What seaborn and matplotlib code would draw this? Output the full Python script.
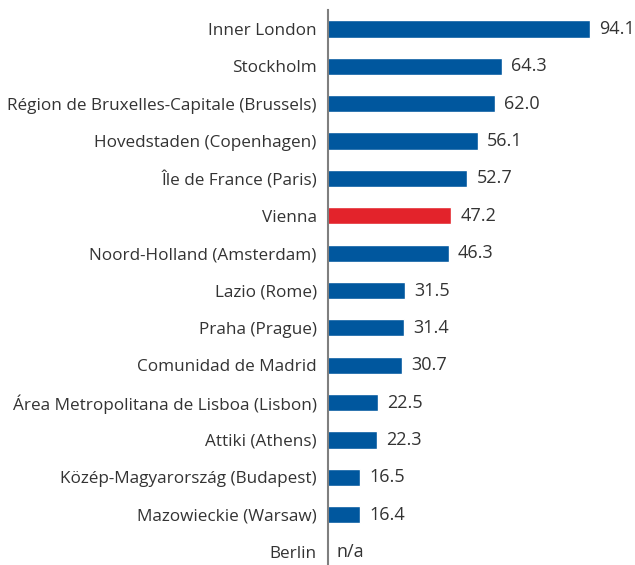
import numpy as np
import pandas as pd
import matplotlib
matplotlib.use("Agg")
import matplotlib.pyplot as plt
import seaborn as sns

regions = [
    "Inner London",
    "Stockholm",
    "Région de Bruxelles-Capitale (Brussels)",
    "Hovedstaden (Copenhagen)",
    "Île de France (Paris)",
    "Vienna",
    "Noord-Holland (Amsterdam)",
    "Lazio (Rome)",
    "Praha (Prague)",
    "Comunidad de Madrid",
    "Área Metropolitana de Lisboa (Lisbon)",
    "Attiki (Athens)",
    "Közép-Magyarország (Budapest)",
    "Mazowieckie (Warsaw)",
    "Berlin",
]
values = [94.1, 64.3, 62.0, 56.1, 52.7, 47.2, 46.3, 31.5, 31.4, 30.7, 22.5, 22.3, 16.5, 16.4, np.nan]
highlight = "Vienna"

blue = "#00579e"
red = "#e3232b"
text_col = "#333333"

sns.set_style("white")
plt.rcParams["font.family"] = ["Open Sans", "DejaVu Sans"]

df = pd.DataFrame({"region": regions, "value": values})
colors = {r: (red if r == highlight else blue) for r in regions}

fig = plt.figure(figsize=(6.35, 5.65), dpi=100)
ax = fig.add_axes([0.5165, 0.0, 0.4835, 0.9823])

sns.barplot(data=df.dropna(), x="value", y="region", hue="region", order=regions,
            hue_order=regions, palette=colors, legend=False, width=0.46,
            orient="h", ax=ax, saturation=1)

# value labels next to the bars
for cont in ax.containers:
    ax.bar_label(cont, fmt="%.1f", padding=6.5, fontsize=13, color=text_col)

for i, v in enumerate(values):
    if np.isnan(v):
        ax.annotate("n/a", (5.57, i), xytext=(6, 0), textcoords="offset points",
                    va="center", ha="left", fontsize=13, color=text_col)

# the axis doesn't start at zero in the original
ax.set_xlim(5.57, 109.3)
ax.set_ylim(14.348, -0.509)
ax.set_xlabel("")
ax.set_ylabel("")
ax.set_xticks([])
ax.tick_params(axis="y", length=0, pad=8, labelsize=12.3, labelcolor=text_col)
for s in ["top", "right", "bottom"]:
    ax.spines[s].set_visible(False)
ax.spines["left"].set_color("#7f7f7f")
ax.spines["left"].set_linewidth(1.5)

fig.savefig("out.png", dpi=100)
